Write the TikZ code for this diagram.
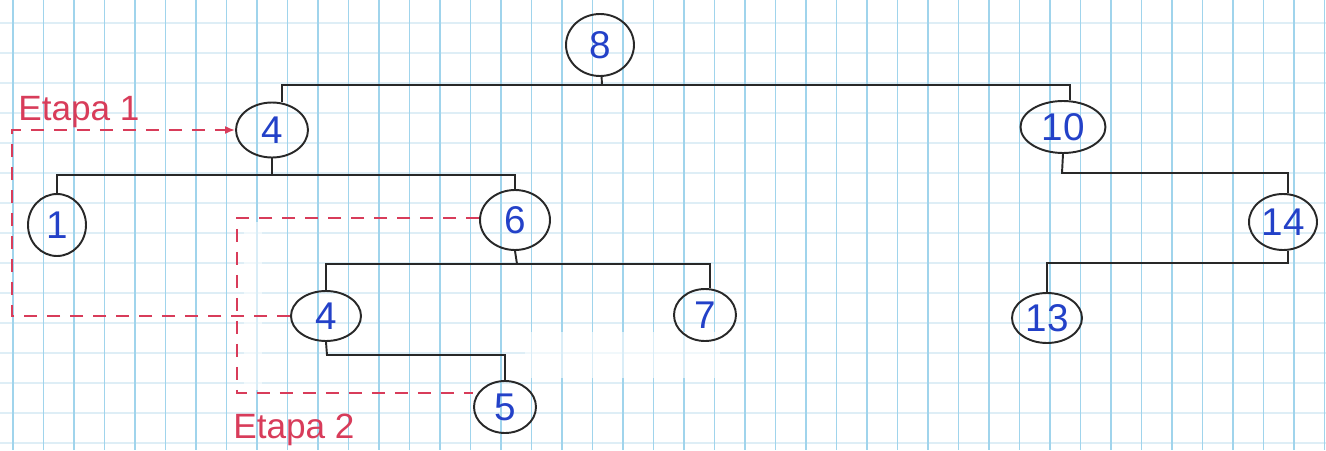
\documentclass[tikz,border=0pt]{standalone}
\usepackage{fontspec}
\setmainfont{Liberation Sans}
\usetikzlibrary{shapes.geometric,arrows.meta}
\definecolor{gridv}{RGB}{160,212,236}
\definecolor{gridh}{RGB}{222,238,246}
\definecolor{inkred}{RGB}{216,60,90}
\definecolor{inkblue}{RGB}{35,65,200}
\definecolor{inkblack}{RGB}{40,40,40}
\tikzset{
  vnode/.style={ellipse, draw=inkblack, line width=1.1pt, inner sep=0pt,
    text=inkblue, font=\fontsize{22}{22}\selectfont},
  tree/.style={draw=inkblack, line width=1.1pt},
  stage/.style={draw=inkred, line width=1pt, dash pattern=on 0.26cm off 0.2cm},
  stagelabel/.style={text=inkred, font=\fontsize{20}{20}\selectfont, inner sep=0pt},
}
\begin{document}
\begin{tikzpicture}[x=0.02cm, y=-0.02cm]
\useasboundingbox (0,0) rectangle (1326,450);
\fill[white] (0,0) rectangle (1326,450);
% grid paper
\foreach \k in {0,...,15} { \draw[gridh, line width=0.8pt] (0,23+30*\k) -- (1326,23+30*\k); }
\foreach \k in {0,...,43} { \draw[gridv, line width=1pt] (13+30.5*\k,0) -- (13+30.5*\k,450); }
% erased patches
\fill[white, opacity=0.6] (525,332) rectangle (720,378);
\fill[white, opacity=0.6] (244,222) rectangle (262,390);

% nodes
\node[vnode, minimum width=1.36cm, minimum height=1.24cm] (n8)  at (600,45)  {8};
\node[vnode, minimum width=1.44cm, minimum height=1.10cm] (n4)  at (272,130) {4};
\node[vnode, minimum width=1.70cm, minimum height=1.04cm] (n10) at (1063,127) {10};
\node[vnode, minimum width=1.16cm, minimum height=1.24cm] (n1)  at (57,225)  {1};
\node[vnode, minimum width=1.40cm, minimum height=1.20cm] (n6)  at (515,220) {6};
\node[vnode, minimum width=1.36cm, minimum height=1.12cm] (n14) at (1283,222) {14};
\node[vnode, minimum width=1.40cm, minimum height=1.00cm] (n4b) at (326,316) {4};
\node[vnode, minimum width=1.24cm, minimum height=1.04cm] (n7)  at (705,315) {7};
\node[vnode, minimum width=1.40cm, minimum height=1.00cm] (n13) at (1047,318) {13};
\node[vnode, minimum width=1.24cm, minimum height=1.04cm] (n5)  at (505,407) {5};

% tree connectors
\coordinate (b8) at (602,85);
\coordinate (b4) at (272,175);
\coordinate (b6) at (517,264);
\coordinate (b4b) at (327,355);
\coordinate (b10) at (1062,173);
\coordinate (b14) at (1288,263);
\draw[tree] (n8) -- (b8);
\draw[tree] ([xshift=0.2cm]n4.north) |- (b8) -| ([xshift=0.14cm]n10.north);
\draw[tree] (n4) -- (b4);
\draw[tree] (n1.north) |- (b4) -| (n6.north);
\draw[tree] (n6.south) -- (b6);
\draw[tree] (n4b.north) |- (b6) -| ([xshift=0.1cm]n7.north);
\draw[tree] (n4b.south) -- (b4b) -| (n5.north);
\draw[tree] (n10.south) -- (b10) -| ([xshift=0.1cm]n14.north);
\draw[tree] ([xshift=0.1cm]n14.south) -- (b14) -| (n13.north);

% stage 1
\coordinate (s1a) at (12,130);
\coordinate (s1b) at (12,316);
\draw[stage, -{Latex[length=0.2cm,width=0.16cm]}] (n4b.west) -- (s1b) -- (s1a) -- (n4.west);
\node[stagelabel, anchor=base west] (e1) at (18,120) {Etapa 1};
% stage 2
\coordinate (s2a) at (237,218);
\coordinate (s2b) at (237,393);
\draw[stage] (s2a -| n6.west) -- (s2a) -- (s2b) -- (s2b -| n5.west);
\node[stagelabel, anchor=base west] (e2) at (233,438) {Etapa 2};
\end{tikzpicture}
\end{document}
